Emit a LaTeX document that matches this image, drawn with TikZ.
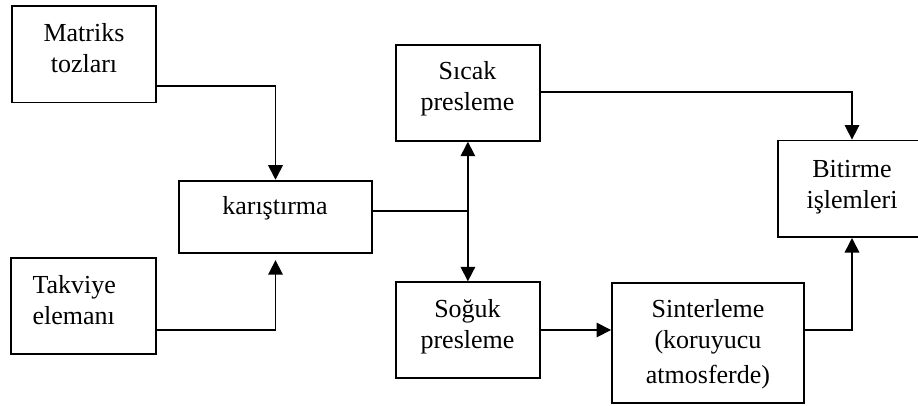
\documentclass[tikz,border=0pt]{standalone}
\usepackage{fontspec}
\setmainfont{Liberation Serif}
\usetikzlibrary{arrows.meta}
\begin{document}
\begin{tikzpicture}[x=1pt,y=-1pt,
  box/.style={draw, line width=1.9pt, inner sep=0pt},
  txt/.style={font=\fontsize{26}{31}\selectfont, align=center, inner sep=0pt},
  conn/.style={line width=1.6pt},
  arr/.style={conn, -{Triangle[width=14.5pt,length=14.5pt]}}]
\useasboundingbox (0,0) rectangle (918,406);
\fill[white] (0,0) rectangle (918,406);
% boxes
\node[box, minimum width=144pt, minimum height=96.5pt] (m) at (83.7,54.3) {};
\node[box, minimum width=144.5pt, minimum height=96pt] (t) at (83.5,306.2) {};
\node[box, minimum width=192.5pt, minimum height=72pt] (k) at (275.5,216.7) {};
\node[box, minimum width=144.3pt, minimum height=95.7pt] (s) at (467.9,92.9) {};
\node[box, minimum width=144.3pt, minimum height=95.4pt] (g) at (467.9,330) {};
\node[box, minimum width=192pt, minimum height=120pt] (r) at (708,343) {};
\node[box, minimum width=148pt, minimum height=96.5pt] (b) at (852,188.8) {};
% texts
\node[txt] (mt) at (84,51) {\strut Matriks\\\strut tozları};
\node[txt, anchor=west, align=left] (tt) at (32.3,302.6) {\strut Takviye\\\strut elemanı};
\node[txt] (kt) at (275,208.8) {\strut karıştırma};
\node[txt] (st) at (467.5,89.3) {\strut Sıcak\\\strut presleme};
\node[txt] (gt) at (467.5,326.6) {\strut Soğuk\\\strut presleme};
\node[txt] (rt) at (708,344.1) {\strut Sinterleme\\\strut (koruyucu\\[4pt]\strut atmosferde)};
\node[txt] (bt) at (852,186.3) {\strut Bitirme\\\strut işlemleri};
% connectors
\draw[arr] ([yshift=-31.7pt]m.east) -| (k.north);
\draw[arr, shorten >=6.5pt] ([yshift=-24pt]t.east) -| (k.south);
\draw[conn] ([yshift=5.7pt]k.east) -- ([yshift=5.7pt]k.east -| s.south) coordinate (j);
\draw[arr] (j) -- (s.south);
\draw[arr] (j) -- (g.north);
\draw[arr] ([yshift=1pt]s.east) -| (b.north);
\draw[arr] (g.east) -- (g.east -| r.west);
\draw[arr] ([yshift=13pt]r.east) -| (b.south);
\end{tikzpicture}
\end{document}
